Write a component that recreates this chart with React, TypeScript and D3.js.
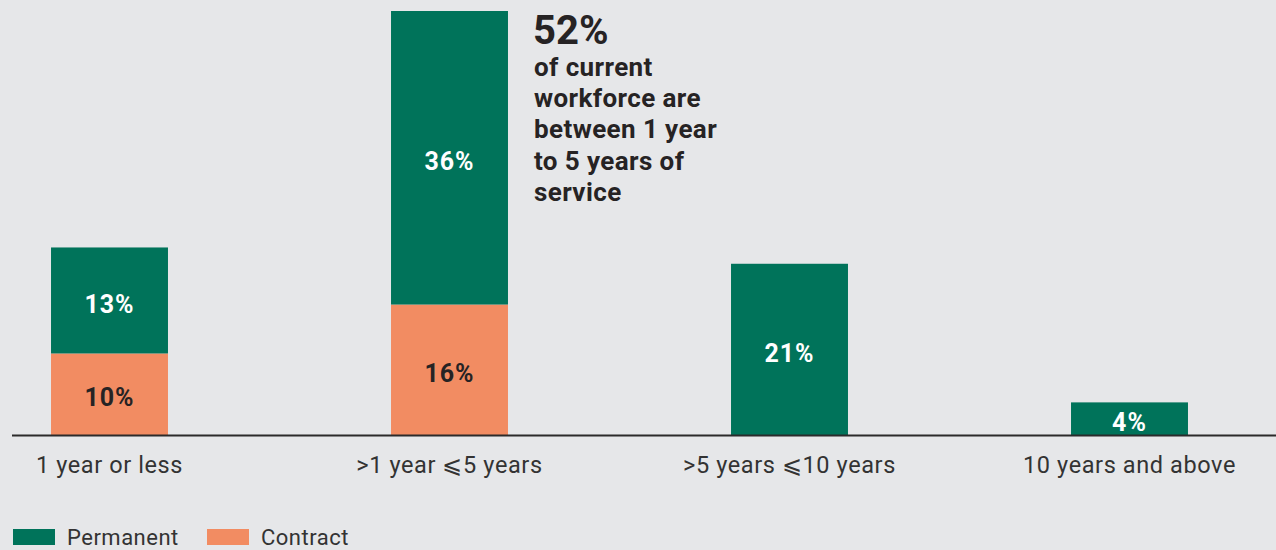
import React from "react";
import * as d3 from "d3";

const categories = ["1 year or less", ">1 year \u2a7d5 years", ">5 years \u2a7d10 years", "10 years and above"];
const permanent = [13, 36, 21, 4];
const contract = [10, 16, 0, 0];
const seriesNames = ["Permanent", "Contract"];
const calloutTitle = "52%";
const calloutLines = ["of current", "workforce are", "between 1 year", "to 5 years of", "service"];

const W = 1276;
const H = 550;
const GREEN = "#00735a";
const ORANGE = "#f28c62";
const BG = "#e6e7e9";
const DARK = "#262324";
const FONT = "Roboto, 'Noto Sans', sans-serif";

export default function App() {
  const baseline = 435;
  const x = d3
    .scaleBand<string>()
    .domain(categories)
    .range([-60.5, 1299.5])
    .paddingInner(0.656)
    .paddingOuter(0.328);
  const y = d3.scaleLinear().domain([0, 52]).range([baseline, 11]);

  const rows = categories.map((c, i) => ({ c, permanent: permanent[i], contract: contract[i] }));
  const stack = d3.stack<any>().keys(["contract", "permanent"])(rows);
  const colors: Record<string, string> = { contract: ORANGE, permanent: GREEN };
  const textColors: Record<string, string> = { contract: DARK, permanent: "#ffffff" };

  return (
    <svg
      width={W}
      height={H}
      style={{ position: "absolute", left: 0, top: 0, display: "block", background: BG }}
    >
      <rect x={0} y={0} width={W} height={H} fill={BG} />
      {stack.map((layer) => (
        <g key={layer.key}>
          {layer.map((d, i) => {
            const v = d[1] - d[0];
            if (v <= 0) return null;
            const bx = x(categories[i])!;
            const y0 = y(d[0]);
            const y1 = y(d[1]);
            return (
              <g key={i}>
                <rect x={bx} y={y1} width={x.bandwidth()} height={y0 - y1} fill={colors[layer.key]} />
                <text
                  x={bx + x.bandwidth() / 2}
                  y={(y0 + y1) / 2 + 3.5}
                  dy="0.35em"
                  textAnchor="middle"
                  fontFamily={FONT}
                  fontWeight={700}
                  fontSize={25}
                  letterSpacing={1}
                  fill={textColors[layer.key]}
                >
                  {v}%
                </text>
              </g>
            );
          })}
        </g>
      ))}
      <line x1={12} x2={W} y1={baseline + 0.5} y2={baseline + 0.5} stroke="#2b2b2b" strokeWidth={2} />
      {categories.map((c) => (
        <text
          key={c}
          x={x(c)! + x.bandwidth() / 2}
          y={473}
          textAnchor="middle"
          fontFamily={FONT}
          fontSize={23.5}
          letterSpacing={0.6}
          fill="#333333"
        >
          {c}
        </text>
      ))}
      <text x={533} y={44} fontFamily={FONT} fontWeight={700} fontSize={40} fill={DARK}>
        {calloutTitle}
      </text>
      {calloutLines.map((l, i) => (
        <text
          key={l}
          x={534}
          y={76 + i * 31.2}
          fontFamily={FONT}
          fontWeight={700}
          fontSize={26}
          letterSpacing={0.4}
          fill={DARK}
        >
          {l}
        </text>
      ))}
      {seriesNames.map((s, i) => {
        const lx = 13 + i * 194;
        return (
          <g key={s}>
            <rect x={lx} y={529} width={42} height={16} fill={i === 0 ? GREEN : ORANGE} />
            <text x={lx + 54} y={545} fontFamily={FONT} fontSize={22} letterSpacing={0.5} fill="#333333">
              {s}
            </text>
          </g>
        );
      })}
    </svg>
  );
}
